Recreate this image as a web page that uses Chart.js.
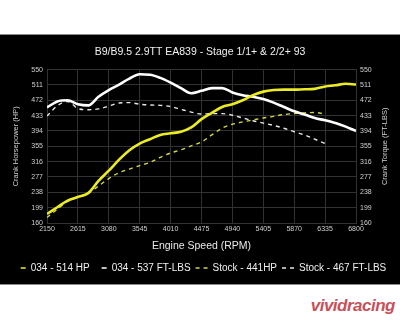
<!DOCTYPE html>
<html>
<head>
<meta charset="utf-8">
<script src="https://cdn.jsdelivr.net/npm/chart.js@4.4.0/dist/chart.umd.min.js"></script>
<style>
  html, body { margin: 0; padding: 0; background: #fff; }
  body { width: 400px; height: 320px; position: relative; overflow: hidden; font-family: "Liberation Sans", Arial, sans-serif; }
  #panel { position: absolute; left: 0; top: 34px; width: 400px; height: 251px; background: #000; border-top: 1px solid #8a8a8a; border-bottom: 1px solid #8a8a8a; box-sizing: border-box; }
  #chart-wrap { position: absolute; left: 0; top: 35px; width: 400px; height: 249px; }
  #logo { position: absolute; right: 5px; top: 296px; font: italic bold 17px "Liberation Sans", Arial, sans-serif; color: #c8505a; letter-spacing: -0.5px; }
</style>
</head>
<body>
<div id="panel"></div>
<div id="chart-wrap"><canvas id="dyno"></canvas></div>
<div id="logo">vividracing</div>
<script>
// --- Data ---
const rpm = [2150, 2305, 2460, 2615, 2770, 2925, 3080, 3235, 3390, 3545, 3700, 3855, 4010, 4165, 4320, 4475,
             4630, 4785, 4940, 5095, 5250, 5405, 5560, 5715, 5870, 6025, 6180, 6335, 6490, 6645, 6800];
const tunedHp = [183, 200, 217, 226, 236, 267, 293, 321, 345, 362, 373, 384, 388, 392, 403, 424,
                 440, 455, 462, 472, 485, 494, 498, 499, 499, 500, 501, 507, 510, 514, 512];
const tunedTq = [454, 469, 472, 462, 459, 481, 498, 512, 527, 538, 537, 529, 517, 503, 490, 496,
                 503, 503, 492, 485, 481, 475, 466, 455, 444, 436, 427, 421, 414, 405, 394];
const stockHp = [174, 195, 215, 225, 235, 254, 273, 288, 297, 306, 314, 327, 338, 346, 356, 366,
                 384, 401, 411, 417, 422, 427, 431, 436, 438, 440, 441, 437, null, null, null];
const stockTq = [432, 458, 469, 451, 448, 450, 457, 465, 466, 462, 460, 459, 456, 449, 442, 437,
                 438, 438, 434, 427, 420, 414, 408, 401, 392, 384, 373, 362, null, null, null];
const seriesNames = ['034 - 514 HP', '034 - 537 FT-LBS', 'Stock - 441HP', 'Stock - 467 FT-LBS'];
const chartTitle = 'B9/B9.5 2.9TT EA839 - Stage 1/1+ & 2/2+ 93';

const FONT = '"Liberation Sans", Arial, sans-serif';
const gridColor = '#323232';
const tickColor = '#d0d0d0';

const toPoints = (vals) => rpm.map((r, i) => ({ x: r, y: vals[i] }));

function makeSet(label, vals, color, width, dash, axis) {
    return {
        label: label,
        data: toPoints(vals),
        borderColor: color,
        backgroundColor: color,
        borderWidth: width,
        borderDash: dash,
        pointRadius: 0,
        tension: 0.4,
        cubicInterpolationMode: 'monotone',
        spanGaps: false,
        yAxisID: axis
    };
}

// right axis title reads bottom-to-top like the left one
const rightTitle = {
    id: 'rightTitle',
    afterDraw(chart) {
        const { ctx, chartArea } = chart;
        ctx.save();
        ctx.translate(385, (chartArea.top + chartArea.bottom) / 2);
        ctx.rotate(-Math.PI / 2);
        ctx.fillStyle = tickColor;
        ctx.font = '7.5px ' + FONT;
        ctx.textAlign = 'center';
        ctx.textBaseline = 'middle';
        ctx.fillText('Crank Torque (FT-LBS)', 0, 0);
        ctx.restore();
    }
};

const plainNum = (v) => String(v);
const yTicks = { color: tickColor, font: { size: 7, family: FONT }, stepSize: 39, padding: 4, callback: plainNum };

new Chart(document.getElementById('dyno'), {
    type: 'line',
    data: {
        datasets: [
            makeSet(seriesNames[0], tunedHp, '#ecec24', 2.6, [], 'y'),
            makeSet(seriesNames[1], tunedTq, '#ffffff', 2.6, [], 'y2'),
            makeSet(seriesNames[2], stockHp, '#d6d644', 1.4, [4, 4], 'y'),
            makeSet(seriesNames[3], stockTq, '#e8e8e8', 1.4, [4, 4], 'y2')
        ]
    },
    options: {
        responsive: true,
        maintainAspectRatio: false,
        animation: false,
        layout: { padding: { left: 0, right: 0, top: 0, bottom: 1 } },
        scales: {
            x: {
                type: 'linear',
                min: 2150,
                max: 6800,
                grid: { color: gridColor, drawTicks: false },
                border: { color: gridColor },
                ticks: { color: tickColor, font: { size: 7, family: FONT }, stepSize: 465, padding: 2, maxRotation: 0, callback: plainNum },
                title: { display: true, text: 'Engine Speed (RPM)', color: '#e8e8e8', font: { size: 10.5, family: FONT }, padding: { top: 0, bottom: 6 } },
                afterFit(scale) { scale.height = 35; }
            },
            y: {
                position: 'left',
                min: 160,
                max: 550,
                grid: { color: gridColor, drawTicks: false },
                border: { color: gridColor },
                ticks: yTicks,
                title: { display: true, text: 'Crank Horsepower (HP)', color: tickColor, font: { size: 7.5, family: FONT }, padding: { top: 11, bottom: 0 } },
                afterFit(scale) { scale.width = 47; }
            },
            y2: {
                position: 'right',
                min: 160,
                max: 550,
                grid: { drawOnChartArea: false, drawTicks: false },
                border: { color: gridColor },
                ticks: yTicks,
                afterFit(scale) { scale.width = 44; }
            }
        },
        plugins: {
            title: {
                display: true,
                text: chartTitle,
                color: '#f0f0f0',
                font: { size: 10.5, weight: 'normal', family: FONT },
                padding: { top: 11, bottom: 11 }
            },
            legend: {
                position: 'bottom',
                labels: {
                    color: '#f0f0f0',
                    font: { size: 10, family: FONT },
                    usePointStyle: true,
                    pointStyle: 'line',
                    pointStyleWidth: 12,
                    padding: 5,
                    generateLabels(chart) {
                        const items = Chart.defaults.plugins.legend.labels.generateLabels(chart);
                        items.forEach((it, i) => {
                            it.lineWidth = 1.5;
                            it.pointStyle = 'line';
                            if (i < 2) {
                                // solid series show as a single short dash
                                it.lineDash = [5, 7];
                                it.lineDashOffset = 5;
                            } else {
                                it.lineDash = [4, 4];
                                it.lineDashOffset = 0;
                            }
                        });
                        return items;
                    }
                }
            },
            tooltip: { enabled: false }
        }
    },
    plugins: [rightTitle]
});
</script>
</body>
</html>
